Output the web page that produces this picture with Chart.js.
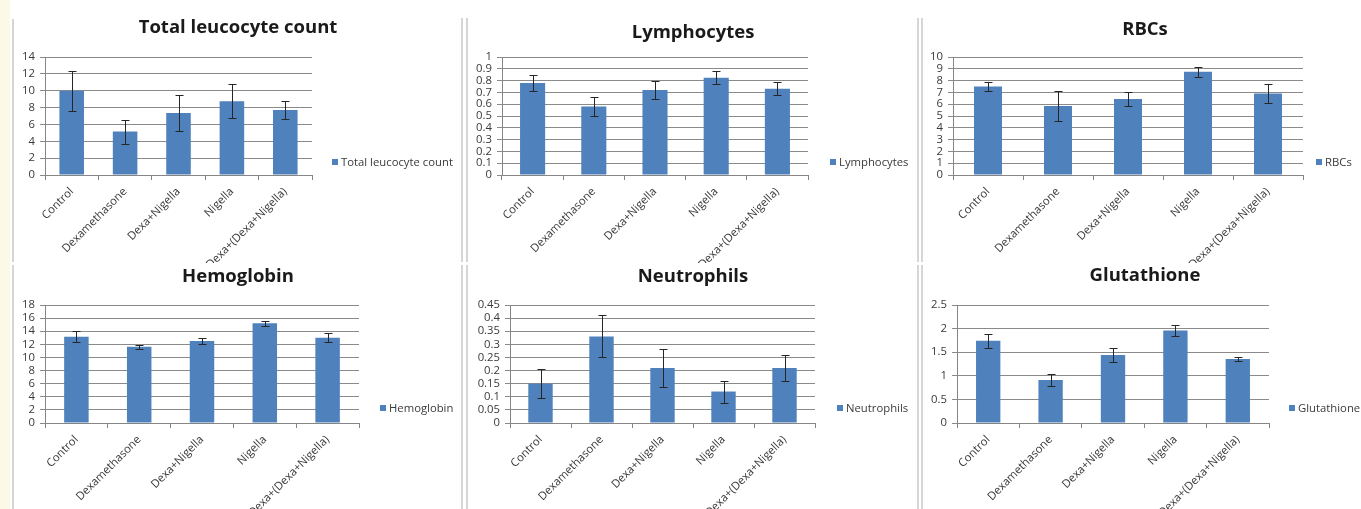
<!DOCTYPE html>
<html><head><meta charset="utf-8">
<script src="https://cdn.jsdelivr.net/npm/chart.js@4.4.1/dist/chart.umd.min.js"></script>
<style>
html,body{margin:0;padding:0;background:#fff}
#page{position:relative;width:1361px;height:509px;overflow:hidden;background:#fff}
.strip{position:absolute;left:0;top:0;width:10px;height:509px;background:#fdf9e7}
.vl{position:absolute;width:2px;background:#d6d6d6;z-index:2}
canvas{position:absolute;z-index:1}
</style></head><body><div id="page">
<div class="strip"></div>
<div class="vl" style="left:12px;top:19px;height:243px"></div>
<div class="vl" style="left:12px;top:265px;height:244px"></div>
<div class="vl" style="left:461px;top:18px;height:244px"></div>
<div class="vl" style="left:466px;top:18px;height:244px"></div>
<div class="vl" style="left:461px;top:265px;height:244px"></div>
<div class="vl" style="left:466px;top:265px;height:244px"></div>
<div class="vl" style="left:917px;top:18px;height:244px"></div>
<div class="vl" style="left:921px;top:18px;height:244px"></div>
<div class="vl" style="left:917px;top:265px;height:244px"></div>
<div class="vl" style="left:921px;top:265px;height:244px"></div>
</div>
<script>
// ---------- data ----------
const categories = ['Control', 'Dexamethasone', 'Dexa+Nigella', 'Nigella', 'Dexa+(Dexa+Nigella)'];

const tlcValues = [10.0, 5.15, 7.35, 8.75, 7.7];
const tlcErrors = [2.35, 1.42, 2.12, 2.0, 1.05];
const tlcTicks = [0, 2, 4, 6, 8, 10, 12, 14];

const lymphValues = [0.78, 0.58, 0.72, 0.825, 0.73];
const lymphErrors = [0.065, 0.08, 0.08, 0.055, 0.055];
const lymphTicks = [0, 0.1, 0.2, 0.3, 0.4, 0.5, 0.6, 0.7, 0.8, 0.9, 1];

const rbcValues = [7.5, 5.85, 6.45, 8.75, 6.9];
const rbcErrors = [0.42, 1.3, 0.58, 0.42, 0.82];
const rbcTicks = [0, 1, 2, 3, 4, 5, 6, 7, 8, 9, 10];

const hbValues = [13.15, 11.65, 12.5, 15.2, 13.0];
const hbErrors = [0.85, 0.3, 0.4, 0.4, 0.7];
const hbTicks = [0, 2, 4, 6, 8, 10, 12, 14, 16, 18];

const neutValues = [0.15, 0.33, 0.21, 0.12, 0.21];
const neutErrors = [0.055, 0.08, 0.072, 0.042, 0.051];
const neutTicks = [0, 0.05, 0.1, 0.15, 0.2, 0.25, 0.3, 0.35, 0.4, 0.45];

const glutValues = [1.74, 0.91, 1.44, 1.96, 1.355];
const glutErrors = [0.15, 0.13, 0.14, 0.125, 0.045];
const glutTicks = [0, 0.5, 1, 1.5, 2, 2.5];

// ---------- layout (page pixel geometry) ----------
const FONT = "'Open Sans', 'Liberation Sans', sans-serif";
const BLUE = '#4f81bd';
const panels = [
  {title: 'Total leucocyte count', values: tlcValues, errors: tlcErrors, ticks: tlcTicks,
   cx: 15, cy: 8, w: 446, h: 255, pl: 45, pr: 312, pt: 57, pb: 175, ty: 28, lx: 332, ly: 162, bar: 0.46},
  {title: 'Lymphocytes', values: lymphValues, errors: lymphErrors, ticks: lymphTicks,
   cx: 468, cy: 8, w: 450, h: 255, pl: 502, pr: 808, pt: 57, pb: 175, ty: 33, lx: 830, ly: 162, bar: 0.41},
  {title: 'RBCs', values: rbcValues, errors: rbcErrors, ticks: rbcTicks,
   cx: 921, cy: 8, w: 448, h: 255, pl: 953, pr: 1303, pt: 57, pb: 175, ty: 30, lx: 1316, ly: 162, bar: 0.40},
  {title: 'Hemoglobin', values: hbValues, errors: hbErrors, ticks: hbTicks,
   cx: 15, cy: 264, w: 446, h: 245, pl: 45, pr: 359, pt: 305, pb: 423, ty: 277, lx: 380, ly: 408, bar: 0.39},
  {title: 'Neutrophils', values: neutValues, errors: neutErrors, ticks: neutTicks,
   cx: 468, cy: 264, w: 450, h: 245, pl: 510, pr: 815, pt: 305, pb: 423, ty: 277, lx: 837, ly: 408, bar: 0.40},
  {title: 'Glutathione', values: glutValues, errors: glutErrors, ticks: glutTicks,
   cx: 921, cy: 264, w: 448, h: 245, pl: 957, pr: 1269, pt: 305, pb: 423, ty: 276, lx: 1289, ly: 408, bar: 0.39}
];

// ---------- plugins ----------
const errorBars = {
  id: 'errorBars',
  afterDatasetsDraw(chart, args, opts) {
    const ctx = chart.ctx, ys = chart.scales.y;
    chart.data.datasets.forEach((ds, di) => {
      const meta = chart.getDatasetMeta(di);
      meta.data.forEach((bar, i) => {
        const v = ds.data[i], e = ds.errors[i];
        const x = Math.round(bar.x) + 0.5;
        const yt = Math.round(ys.getPixelForValue(v + e)) + 0.5;
        const yb = Math.round(ys.getPixelForValue(v - e)) + 0.5;
        ctx.save();
        ctx.strokeStyle = opts.color; ctx.lineWidth = opts.width;
        ctx.beginPath();
        ctx.moveTo(x, yt); ctx.lineTo(x, yb);
        ctx.moveTo(x - opts.cap, yt); ctx.lineTo(x + opts.cap, yt);
        ctx.moveTo(x - opts.cap, yb); ctx.lineTo(x + opts.cap, yb);
        ctx.stroke();
        ctx.restore();
      });
    });
  }
};

// legend drawn as a right-hand layout box (reserves space without shifting the title)
const sideLegend = {
  id: 'sideLegend',
  beforeInit(chart) {
    const box = {
      position: 'right', weight: 1000, fullSize: false, options: {},
      left: 0, top: 0, right: 0, bottom: 0, width: 0, height: 0,
      isHorizontal() { return false; },
      update(maxWidth, maxHeight) {
        this.width = chart.options.plugins.sideLegend.width;
        this.height = maxHeight;
      },
      draw() {
        const o = chart.options.plugins.sideLegend;
        const ctx = chart.ctx;
        const ds = chart.data.datasets[0];
        const x = this.left + o.offsetX, y = o.y;
        ctx.save();
        ctx.fillStyle = ds.backgroundColor;
        ctx.fillRect(Math.round(x), Math.round(y - o.box / 2), o.box, o.box);
        ctx.font = o.fontSize + 'px ' + FONT;
        ctx.fillStyle = o.color;
        ctx.textBaseline = 'middle';
        ctx.textAlign = 'left';
        ctx.fillText(ds.label, x + o.box + o.gap, y + 0.5);
        ctx.restore();
      }
    };
    Chart.layouts.addBox(chart, box);
  }
};

const fmt = v => String(+Number(v).toFixed(4));
const TITLE_SIZE = 18.5, LH = TITLE_SIZE * 1.2;
const TICK_SIZE = 11.3;

panels.forEach(p => {
  const cv = document.createElement('canvas');
  cv.width = p.w; cv.height = p.h;
  cv.style.left = p.cx + 'px'; cv.style.top = p.cy + 'px';
  cv.style.width = p.w + 'px'; cv.style.height = p.h + 'px';
  document.getElementById('page').appendChild(cv);

  const yW = p.pl - p.cx;
  const xH = p.cy + p.h - p.pb;
  const spacerW = p.cx + p.w - p.pr;
  const padTop = p.ty - p.cy - LH / 2;
  const padBottom = (p.pt - p.cy) - padTop - LH;
  const tk = p.ticks;

  new Chart(cv, {
    type: 'bar',
    data: {
      labels: categories,
      datasets: [{
        label: p.title,
        data: p.values,
        errors: p.errors,
        backgroundColor: BLUE,
        borderWidth: 0,
        barPercentage: p.bar,
        categoryPercentage: 1
      }]
    },
    options: {
      responsive: false, animation: false, devicePixelRatio: 1,
      layout: {padding: 0},
      plugins: {
        legend: {display: false},
        tooltip: {enabled: false},
        title: {
          display: true, text: p.title, color: '#1a1a1a',
          font: {family: FONT, size: TITLE_SIZE, weight: 'bold'},
          padding: {top: padTop, bottom: padBottom}
        },
        errorBars: {color: '#262626', width: 1, cap: 4},
        sideLegend: {width: spacerW, offsetX: p.lx - p.pr, y: p.ly - p.cy, box: 6, gap: 3, fontSize: 11.3, color: '#3a3a3a'}
      },
      scales: {
        x: {
          offset: true,
          grid: {offset: true, drawOnChartArea: false, drawTicks: true, tickLength: 5, color: '#868686'},
          border: {color: '#868686'},
          ticks: {autoSkip: false, minRotation: 45, maxRotation: 45, padding: 5, color: '#3a3a3a',
                  font: {family: FONT, size: TICK_SIZE}},
          afterFit: s => { s.height = xH; }
        },
        y: {
          min: tk[0], max: tk[tk.length - 1],
          grid: {color: '#8a8a8a', tickLength: 5, drawTicks: true},
          border: {color: '#868686'},
          ticks: {stepSize: tk[1] - tk[0], autoSkip: false, padding: 5, color: '#3a3a3a',
                  font: {family: FONT, size: TICK_SIZE}, callback: v => fmt(v)},
          afterFit: s => { s.width = yW; }
        }
      }
    },
    plugins: [errorBars, sideLegend]
  });
});
</script>
</body></html>
